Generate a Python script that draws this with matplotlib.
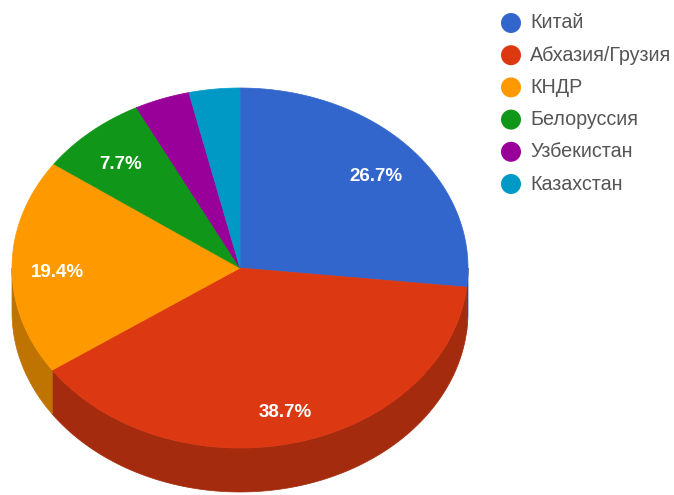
import numpy as np
import matplotlib
matplotlib.use('Agg')
import matplotlib.pyplot as plt
from matplotlib.patches import Polygon, Circle
from matplotlib.colors import to_rgb

# --- data ---
countries = ['Китай', 'Абхазия/Грузия', 'КНДР', 'Белоруссия', 'Узбекистан', 'Казахстан']
shares = [26.7, 38.7, 19.4, 7.7, 3.9, 3.6]
colors = ['#3366CC', '#DC3912', '#FF9900', '#109618', '#990099', '#0099C6']
label_min = 5.0  # slices smaller than this get no label

plt.rcParams['font.family'] = ['Liberation Sans', 'DejaVu Sans']

W, H = 674, 495
fig = plt.figure(figsize=(W / 100, H / 100), dpi=100)
ax = fig.add_axes([0, 0, 1, 1])
ax.set_xlim(0, W)
ax.set_ylim(H, 0)
ax.axis('off')

# pie geometry (pixels)
cx, cy = 240, 268
rx, ry = 228, 180
depth = 44
label_r = 0.80


def darker(c, f=0.75):
    r, g, b = to_rgb(c)
    return (r * f, g * f, b * f)


def arc(a1, a2, dy=0.0, n=120):
    t = np.radians(np.linspace(a1, a2, n))
    return np.column_stack([cx + rx * np.cos(t), cy - ry * np.sin(t) + dy])


total = sum(shares)
spans = [s / total * 360 for s in shares]
starts = 90 - np.concatenate([[0], np.cumsum(spans)[:-1]])
ends = starts - np.array(spans)

# side walls (front half only: angles between -180 and 0)
for a1, a2, c in zip(starts, ends, colors):
    for lo_lim, hi_lim in [(-180, 0), (-540, -360)]:
        hi = min(a1, hi_lim)
        lo = max(a2, lo_lim)
        if hi <= lo:
            continue
        top = arc(hi, lo)
        bot = arc(lo, hi, dy=depth)
        ax.add_patch(Polygon(np.vstack([top, bot]), closed=True,
                             facecolor=darker(c), edgecolor=darker(c), lw=0.5))

# top faces
for a1, a2, c in zip(starts, ends, colors):
    pts = np.vstack([[cx, cy], arc(a1, a2)])
    ax.add_patch(Polygon(pts, closed=True, facecolor=c, edgecolor=c, lw=0.5))

# slice labels
for a1, a2, s in zip(starts, ends, shares):
    if s < label_min:
        continue
    m = np.radians((a1 + a2) / 2)
    ax.text(cx + label_r * rx * np.cos(m), cy - label_r * ry * np.sin(m) + 5,
            f'{s / total * 100:.1f}%', color='white', fontsize=13.5,
            fontweight='bold', ha='center', va='center')

# legend
leg_x, leg_y0, leg_dy = 511, 23, 32.2
for i, (name, c) in enumerate(zip(countries, colors)):
    y = leg_y0 + i * leg_dy
    ax.add_patch(Circle((leg_x, y), 10, facecolor=c, edgecolor='none'))
    ax.text(leg_x + 19, y, name, fontsize=14.2, color='#555555',
            ha='left', va='center')

plt.savefig('out.png', dpi=100)
